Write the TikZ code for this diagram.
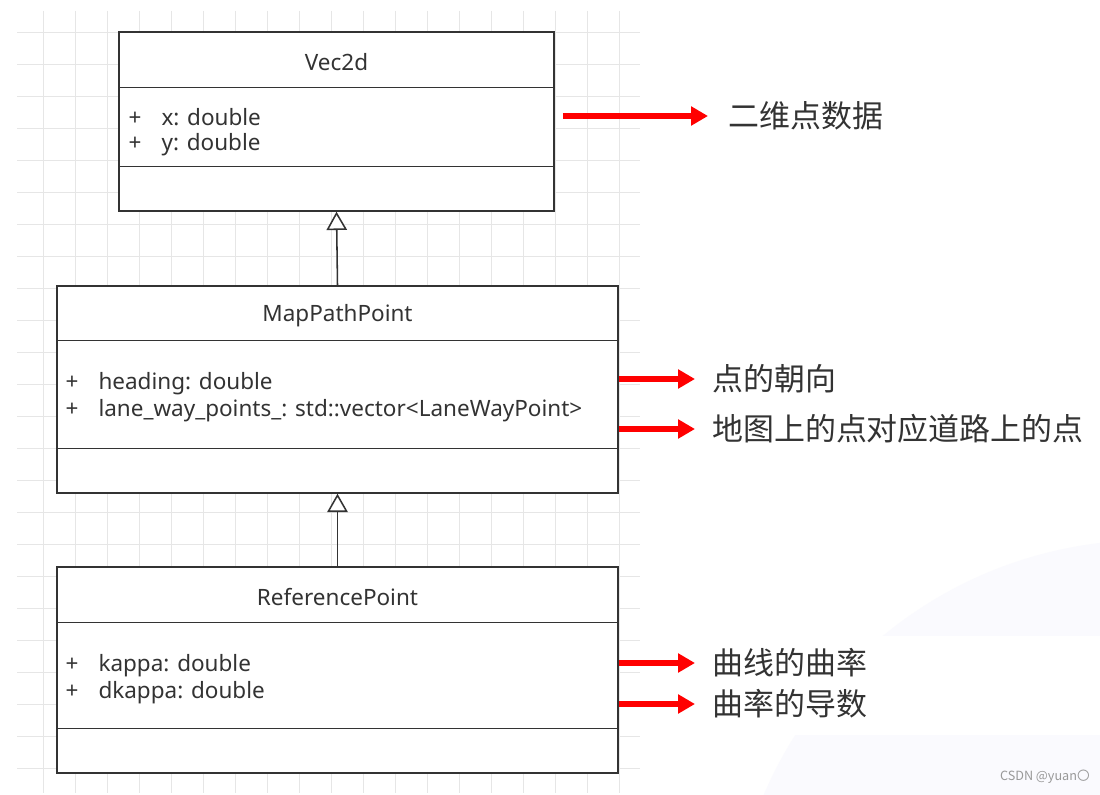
\documentclass[tikz,border=0pt]{standalone}
\usepackage{fontspec}
\setmainfont{Noto Sans}
\newfontfamily\cjk{Noto Sans CJK SC}
\usetikzlibrary{arrows.meta,positioning,calc}

\definecolor{umlline}{HTML}{333333}
\definecolor{umltext}{HTML}{333333}
\definecolor{gridgray}{HTML}{E6E6E6}
\definecolor{bgtint}{HTML}{FAFAFE}
\definecolor{marktext}{HTML}{999999}

\newcommand{\attr}[1]{\makebox[0.825cm][l]{+}#1}

\tikzset{
  classbox/.style = {draw=umlline, line width=1pt, fill=white, inner sep=0pt},
  umlrule/.style = {draw=umlline, line width=1pt},
  classname/.style = {text=umltext, font=\fontsize{16}{18}\selectfont},
  attrline/.style = {anchor=west, inner sep=0pt, text=umltext, font=\fontsize{16}{18}\selectfont},
  gridline/.style = {draw=gridgray, line width=0.6pt},
  inherit/.style = {draw=umlline, line width=1.1pt, -{Triangle[open, length=13pt, width=14.5pt, fill=white]}},
  note/.style = {draw=red, line width=3.6pt, -{Triangle[length=12pt, width=13pt]}},
  notelabel/.style = {anchor=west, inner sep=0pt, text=umltext, font=\cjk\fontsize{22}{26}\selectfont}
}

\begin{document}
\begin{tikzpicture}[x=0.025cm, y=-0.025cm]
\useasboundingbox (0,0) rectangle (1100,795);
\fill[white] (0,0) rectangle (1100,795);

% faint background
\begin{scope}
\clip (640,0) rectangle (1100,795);
\fill[bgtint] (1150,960) circle (420);
\fill[white] (700,636) rectangle (1100,735);
\end{scope}

% grid
\foreach \x in {43,75,...,619}
  \draw[gridline] (\x,11) -- (\x,793);
\foreach \y in {32,64,...,768}
  \draw[gridline] (17,\y) -- (640,\y);

% classes
\node[classbox, minimum width=10.875cm, minimum height=4.475cm] (vec) at (336.5,121.5) {};
\node[classbox, minimum width=14.025cm, minimum height=5.175cm] (map) at (337.5,389.5) {};
\node[classbox, minimum width=14.025cm, minimum height=5.15cm] (ref) at (337.5,670) {};

\draw[umlrule] ($(vec.north west)+(0,56)$) -- ($(vec.north east)+(0,56)$);
\draw[umlrule] ($(vec.north west)+(0,135)$) -- ($(vec.north east)+(0,135)$);
\draw[umlrule] ($(map.north west)+(0,55)$) -- ($(map.north east)+(0,55)$);
\draw[umlrule] ($(map.north west)+(0,163)$) -- ($(map.north east)+(0,163)$);
\draw[umlrule] ($(ref.north west)+(0,56)$) -- ($(ref.north east)+(0,56)$);
\draw[umlrule] ($(ref.north west)+(0,162)$) -- ($(ref.north east)+(0,162)$);

\node[classname] (vectitle) at ($(vec.north)+(0,31)$) {Vec2d};
\node[attrline] (vecx) at ($(vec.north west)+(10,86)$) {\attr{x: double}};
\node[attrline] (vecy) at ($(vec.north west)+(10,113)$) {\attr{y: double}};

\node[classname] (maptitle) at ($(map.north)+(0,30)$) {MapPathPoint};
\node[attrline] (mapheading) at ($(map.north west)+(9,98)$) {\attr{heading: double}};
\node[attrline] (maplane) at ($(map.north west)+(9,125)$) {\attr{lane\_way\_points\_: std::vector<LaneWayPoint>}};

\node[classname] (reftitle) at ($(ref.north)+(0,31)$) {ReferencePoint};
\node[attrline] (refkappa) at ($(ref.north west)+(9,99)$) {\attr{kappa: double}};
\node[attrline] (refdkappa) at ($(ref.north west)+(9,126)$) {\attr{dkappa: double}};

% inheritance
\draw[inherit] (map.north) -- (vec.south);
\draw[inherit] (ref.north) -- (map.south);

% notes
\node[notelabel] (notexy) at (728,116) {二维点数据};
\node[notelabel] (noteheading) at (712,379) {点的朝向};
\node[notelabel] (notelane) at (712,429) {地图上的点对应道路上的点};
\node[notelabel] (notekappa) at (712,663) {曲线的曲率};
\node[notelabel] (notedkappa) at (712,704) {曲率的导数};

\draw[note, shorten <=0.2cm, shorten >=0.5cm] (vec.east |- notexy.west) -- (notexy.west);
\draw[note, shorten >=0.425cm] (map.east |- noteheading.west) -- (noteheading.west);
\draw[note, shorten >=0.425cm] (map.east |- notelane.west) -- (notelane.west);
\draw[note, shorten >=0.425cm] (ref.east |- notekappa.west) -- (notekappa.west);
\draw[note, shorten >=0.425cm] (ref.east |- notedkappa.west) -- (notedkappa.west);

\node[anchor=east, inner sep=0pt, text=marktext, font=\cjk\fontsize{9}{10}\selectfont] (mark) at (1090,777) {CSDN @yuan〇};
\end{tikzpicture}
\end{document}
